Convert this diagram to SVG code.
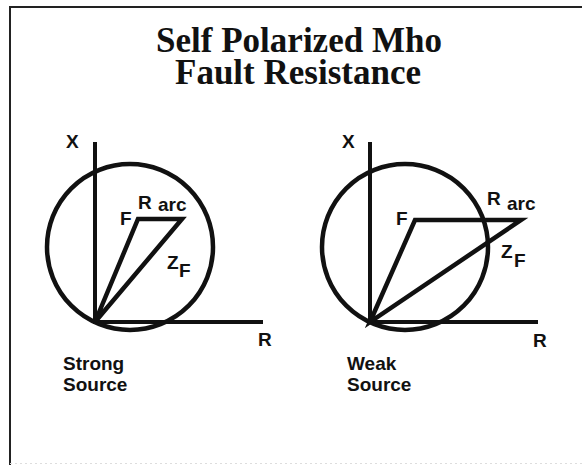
<svg xmlns="http://www.w3.org/2000/svg" width="582" height="465" viewBox="0 0 582 465">
<style>
.ln{stroke:#111;stroke-width:4.5;fill:none;stroke-linejoin:miter;stroke-linecap:butt}
.ax{stroke:#111;stroke-width:4;fill:none}
.lb{font-family:"Liberation Sans",Arial,sans-serif;font-weight:bold;font-size:19px;fill:#111}
.ttl{font-family:"Liberation Serif","Times New Roman",serif;font-weight:bold;font-size:35px;fill:#111;text-anchor:middle}
</style>
<rect width="582" height="465" fill="#fff"/>
<g id="frame">
<path d="M10 465 V7 H582" fill="none" stroke="#222" stroke-width="2"/>
<path d="M10 463.5 H582" fill="none" stroke="#ddd" stroke-width="1" stroke-dasharray="2 3"/>
</g>
<g id="title">
<text class="ttl"><tspan x="299" y="52">Self Polarized Mho</tspan><tspan x="298" y="84">Fault Resistance</tspan></text>
</g>
<g id="strong-source">
<path class="ax" d="M95 142 V322 H263"/>
<circle class="ln" cx="130" cy="247" r="83"/>
<path class="ln" d="M95 322 L138 219 H182 Z"/>
<text class="lb" x="66" y="148" font-size="18">X</text>
<text class="lb" x="120" y="225">F</text>
<text class="lb" x="138" y="209">R</text>
<text class="lb" x="158" y="211">arc</text>
<text class="lb" x="167" y="269">Z</text>
<text class="lb" x="179" y="277">F</text>
<text class="lb" x="258" y="346">R</text>
<text class="lb" x="63" y="370">Strong</text>
<text class="lb" x="63" y="391">Source</text>
</g>
<g id="weak-source">
<path class="ax" d="M370 142 V322 H538"/>
<circle class="ln" cx="405" cy="247" r="83"/>
<path class="ln" d="M370 322 L415 220 H521 Z"/>
<text class="lb" x="342" y="148" font-size="18">X</text>
<text class="lb" x="396" y="225">F</text>
<text class="lb" x="487" y="205">R</text>
<text class="lb" x="507" y="210">arc</text>
<text class="lb" x="501" y="258">Z</text>
<text class="lb" x="514" y="267">F</text>
<text class="lb" x="533" y="347">R</text>
<text class="lb" x="347" y="370">Weak</text>
<text class="lb" x="347" y="391">Source</text>
</g>
</svg>
